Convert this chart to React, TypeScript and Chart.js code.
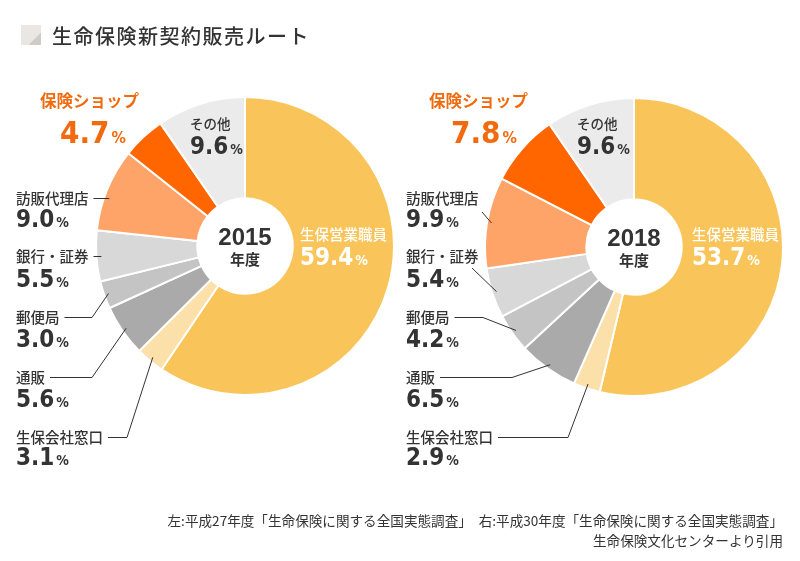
import React, { useEffect, useRef } from 'react';
import { Chart, registerables } from 'chart.js';

Chart.register(...registerables);

const categories = ['生保営業職員', '生保会社窓口', '通販', '郵便局', '銀行・証券', '訪販代理店', '保険ショップ', 'その他'];
const values2015 = [59.4, 3.1, 5.6, 3.0, 5.5, 9.0, 4.7, 9.6];
const values2018 = [53.7, 2.9, 6.5, 4.2, 5.4, 9.9, 7.8, 9.6];
const years = ['2015', '2018'];
const yearSuffix = '年度';
const titleText = '生命保険新契約販売ルート';
const sourceLine1 = '左:平成27年度「生命保険に関する全国実態調査」　右:平成30年度「生命保険に関する全国実態調査」';
const sourceLine2 = '生命保険文化センターより引用';

const sliceColors = ['#F9C55A', '#FCE0A9', '#AAAAAA', '#C4C4C4', '#D8D8D8', '#FFA468', '#FF6600', '#EBEBEB'];

type Kind = 'plain' | 'white' | 'accent' | 'small';
type Line = { mode: 'none' } | { mode: 'elbow'; ex: number } | { mode: 'h' } | { mode: 'diag'; sx: number; sy: number };
type Lay = { nx: number; ny: number; vx: number; vy: number; kind: Kind; line: Line };

const layoutLeft: Lay[] = [
  { nx: 300, ny: 234, vx: 300, vy: 265, kind: 'white', line: { mode: 'none' } },
  { nx: 16, ny: 437, vx: 16, vy: 465, kind: 'plain', line: { mode: 'elbow', ex: 127 } },
  { nx: 16, ny: 377, vx: 16, vy: 407, kind: 'plain', line: { mode: 'elbow', ex: 92 } },
  { nx: 16, ny: 317, vx: 16, vy: 347, kind: 'plain', line: { mode: 'elbow', ex: 92 } },
  { nx: 16, ny: 256, vx: 16, vy: 287, kind: 'plain', line: { mode: 'h' } },
  { nx: 16, ny: 198, vx: 16, vy: 227, kind: 'plain', line: { mode: 'h' } },
  { nx: 40, ny: 101, vx: 60, vy: 143, kind: 'accent', line: { mode: 'none' } },
  { nx: 190, ny: 124, vx: 190, vy: 154, kind: 'small', line: { mode: 'none' } },
];

const layoutRight: Lay[] = [
  { nx: 292, ny: 234, vx: 292, vy: 265, kind: 'white', line: { mode: 'none' } },
  { nx: 6, ny: 437, vx: 6, vy: 465, kind: 'plain', line: { mode: 'elbow', ex: 168 } },
  { nx: 6, ny: 377, vx: 6, vy: 407, kind: 'plain', line: { mode: 'elbow', ex: 112 } },
  { nx: 6, ny: 317, vx: 6, vy: 347, kind: 'plain', line: { mode: 'elbow', ex: 83 } },
  { nx: 6, ny: 256, vx: 6, vy: 287, kind: 'plain', line: { mode: 'diag', sx: 72, sy: 268 } },
  { nx: 6, ny: 198, vx: 6, vy: 227, kind: 'plain', line: { mode: 'diag', sx: 82, sy: 212 } },
  { nx: 29, ny: 101, vx: 51, vy: 143, kind: 'accent', line: { mode: 'none' } },
  { nx: 177, ny: 124, vx: 177, vy: 154, kind: 'small', line: { mode: 'none' } },
];

const JP = '"Noto Sans CJK JP", "Noto Sans", sans-serif';
const NUM = '"DejaVu Sans Condensed", "DejaVu Sans", sans-serif';
const YEAR = '"Liberation Sans Narrow", "Liberation Sans", sans-serif';
const TEXT = '#333333';
const ORANGE = '#F26A0E';

function makePlugin(layout: Lay[], values: number[], year: string) {
  return {
    id: 'sliceLabels' + year,
    afterDraw(chart: any) {
      const ctx: CanvasRenderingContext2D = chart.ctx;
      const meta = chart.getDatasetMeta(0);
      ctx.save();
      let cxAll = 0, cyAll = 0;
      meta.data.forEach((arc: any, i: number) => {
        const L = layout[i];
        const p = arc.getProps(['x', 'y', 'startAngle', 'endAngle', 'outerRadius'], true);
        cxAll = p.x; cyAll = p.y;
        const color = L.kind === 'white' ? '#FFFFFF' : L.kind === 'accent' ? ORANGE : TEXT;
        const nameSize = L.kind === 'accent' ? 16.5 : L.kind === 'small' ? 13.5 : 14.5;
        const weight = L.kind === 'accent' ? 'bold' : '500';
        ctx.fillStyle = color;
        ctx.font = `${weight} ${nameSize}px ${JP}`;
        ctx.textBaseline = 'middle';
        ctx.textAlign = 'left';
        ctx.fillText(categories[i], L.nx, L.ny);
        const nameW = ctx.measureText(categories[i]).width;
        // value
        const digitSize = L.kind === 'accent' ? 31 : 24;
        const pctSize = L.kind === 'accent' ? 16 : 14;
        ctx.textBaseline = 'alphabetic';
        ctx.font = `bold ${digitSize}px ${NUM}`;
        const vs = values[i].toFixed(1);
        ctx.fillText(vs, L.vx, L.vy);
        const vw = ctx.measureText(vs).width;
        ctx.font = `bold ${pctSize}px ${NUM}`;
        ctx.fillText('%', L.vx + vw + 2, L.vy);
        // leader line
        const mid = (p.startAngle + p.endAngle) / 2;
        const rho = p.outerRadius * 0.97;
        const mx = p.x + Math.cos(mid) * rho;
        const my = p.y + Math.sin(mid) * rho;
        ctx.strokeStyle = TEXT;
        ctx.lineWidth = 1;
        const line = L.line;
        if (line.mode === 'elbow') {
          ctx.beginPath();
          ctx.moveTo(L.nx + nameW + 5, L.ny + 0.5);
          ctx.lineTo(line.ex, L.ny + 0.5);
          ctx.lineTo(mx, my);
          ctx.stroke();
        } else if (line.mode === 'h') {
          const r2 = p.outerRadius * 0.966;
          const dy = L.ny - p.y;
          const ex = p.x - Math.sqrt(Math.max(r2 * r2 - dy * dy, 0));
          ctx.beginPath();
          ctx.moveTo(L.nx + nameW + 5, L.ny + 0.5);
          ctx.lineTo(ex, L.ny + 0.5);
          ctx.stroke();
        } else if (line.mode === 'diag') {
          ctx.beginPath();
          ctx.moveTo(line.sx, line.sy);
          ctx.lineTo(mx, my);
          ctx.stroke();
        }
      });
      // center text
      ctx.fillStyle = TEXT;
      ctx.textAlign = 'center';
      ctx.textBaseline = 'middle';
      ctx.font = `bold 24px ${YEAR}`;
      ctx.fillText(year, cxAll, cyAll - 8);
      ctx.font = `bold 15px ${JP}`;
      ctx.fillText(yearSuffix, cxAll, cyAll + 13);
      ctx.restore();
    },
  };
}

function Donut(props: { values: number[]; layout: Lay[]; year: string; left: number; pad: { left: number; right: number; top: number; bottom: number } }) {
  const ref = useRef<HTMLCanvasElement | null>(null);
  useEffect(() => {
    if (!ref.current) return;
    const chart = new Chart(ref.current, {
      type: 'doughnut',
      data: {
        labels: categories,
        datasets: [
          {
            data: props.values,
            backgroundColor: sliceColors,
            borderColor: '#FFFFFF',
            borderWidth: 2,
          },
        ],
      },
      options: {
        responsive: false,
        animation: false,
        cutout: '32%',
        layout: { padding: props.pad },
        plugins: { legend: { display: false }, tooltip: { enabled: false } },
        events: [],
      },
      plugins: [makePlugin(props.layout, props.values, props.year)],
    } as any);
    return () => chart.destroy();
  }, []);
  return (
    <canvas
      ref={ref}
      width={400}
      height={561}
      style={{ position: 'absolute', left: props.left, top: 0, width: 400, height: 561 }}
    />
  );
}

export default function App() {
  return (
    <div style={{ position: 'absolute', left: 0, top: 0, width: 800, height: 561, background: '#FFFFFF', overflow: 'hidden', fontFamily: JP, color: TEXT }}>
      <Donut values={values2015} layout={layoutLeft} year={years[0]} left={0} pad={{ left: 95, right: 5, top: 96, bottom: 165 }} />
      <Donut values={values2018} layout={layoutRight} year={years[1]} left={400} pad={{ left: 84, right: 16, top: 97, bottom: 164 }} />
      <div style={{ position: 'absolute', left: 21, top: 25, width: 20, height: 20, background: 'linear-gradient(135deg, #E9E6E4 68%, #CFCBC7 68%)' }} />
      <div style={{ position: 'absolute', left: 52, top: 22, fontSize: 20, lineHeight: '28px', letterSpacing: 1.5, whiteSpace: 'nowrap', fontWeight: 500 }}>{titleText}</div>
      <div style={{ position: 'absolute', right: 17, top: 510, fontSize: 13.6, lineHeight: '20px', textAlign: 'right', whiteSpace: 'nowrap' }}>
        <div>{sourceLine1}</div>
        <div>{sourceLine2}</div>
      </div>
    </div>
  );
}
